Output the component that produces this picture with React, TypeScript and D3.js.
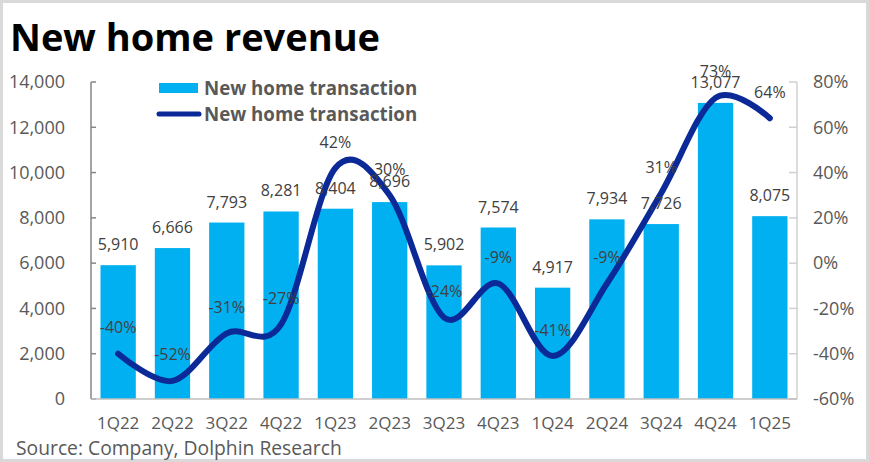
import { useEffect, useRef } from 'react'
import * as d3 from 'd3'

const quarters = ['1Q22', '2Q22', '3Q22', '4Q22', '1Q23', '2Q23', '3Q23', '4Q23', '1Q24', '2Q24', '3Q24', '4Q24', '1Q25']
const revenue = [5910, 6666, 7793, 8281, 8404, 8696, 5902, 7574, 4917, 7934, 7726, 13077, 8075]
const growth = [-40, -52, -31, -27, 42, 30, -24, -9, -41, -9, 31, 73, 64]
const leftTicks = [0, 2000, 4000, 6000, 8000, 10000, 12000, 14000]
const rightTicks = [-60, -40, -20, 0, 20, 40, 60, 80]

const W = 869
const H = 462
const FONT = '"Open Sans", "Noto Sans", sans-serif'
const BAR = '#00B0F0'
const LINE = '#0B2A98'
const TEXT = '#595959'

export default function App() {
  const ref = useRef<SVGSVGElement>(null)

  useEffect(() => {
    if (!ref.current) return
    const svg = d3.select(ref.current)
    svg.selectAll('*').remove()

    const left = 91, right = 797, top = 82, bottom = 399

    const x = d3.scaleBand().domain(quarters).range([left, right]).padding(0)
    const yL = d3.scaleLinear().domain([0, 14000]).range([bottom, top])
    const yR = d3.scaleLinear().domain([-60, 80]).range([bottom, top])
    const cx = (q: string) => (x(q) || 0) + x.bandwidth() / 2
    const bw = x.bandwidth() * 0.65

    svg.append('rect')
      .attr('x', 1.5).attr('y', 1.5).attr('width', W - 3).attr('height', H - 3)
      .attr('fill', '#fff').attr('stroke', '#d9d9d9').attr('stroke-width', 3)

    svg.append('text')
      .attr('x', 10).attr('y', 51)
      .attr('font-family', FONT).attr('font-weight', 700).attr('font-size', 38)
      .attr('fill', '#000')
      .text('New home revenue')

    // bars
    svg.append('g')
      .selectAll('rect')
      .data(quarters)
      .join('rect')
      .attr('x', d => cx(d) - bw / 2)
      .attr('y', (d, i) => yL(revenue[i]))
      .attr('width', bw)
      .attr('height', (d, i) => yL(0) - yL(revenue[i]))
      .attr('fill', BAR)

    // left axis
    const gl = svg.append('g')
    gl.append('line').attr('x1', left).attr('x2', left).attr('y1', top).attr('y2', bottom)
      .attr('stroke', '#868686').attr('stroke-width', 1.5)
    gl.selectAll('line.t').data(leftTicks).join('line').attr('class', 't')
      .attr('x1', left).attr('x2', left + 5).attr('y1', d => yL(d)).attr('y2', d => yL(d))
      .attr('stroke', '#868686').attr('stroke-width', 1.5)
    gl.selectAll('text').data(leftTicks).join('text')
      .attr('x', 65).attr('y', d => yL(d)).attr('dy', '0.35em')
      .attr('text-anchor', 'end')
      .attr('font-family', FONT).attr('font-size', 18).attr('fill', TEXT)
      .text(d => d3.format(',')(d))

    // right axis
    const gr = svg.append('g')
    gr.append('line').attr('x1', right).attr('x2', right).attr('y1', top).attr('y2', bottom)
      .attr('stroke', '#d0d0d0').attr('stroke-width', 1.5)
    gr.selectAll('line.t').data(rightTicks).join('line').attr('class', 't')
      .attr('x1', right - 8).attr('x2', right).attr('y1', d => yR(d)).attr('y2', d => yR(d))
      .attr('stroke', '#d0d0d0').attr('stroke-width', 1.5)
    gr.selectAll('text').data(rightTicks).join('text')
      .attr('x', 813).attr('y', d => yR(d)).attr('dy', '0.35em')
      .attr('font-family', FONT).attr('font-size', 18).attr('fill', TEXT)
      .text(d => `${d}%`)

    // bottom axis
    svg.append('line').attr('x1', left).attr('x2', right).attr('y1', bottom).attr('y2', bottom)
      .attr('stroke', '#bfbfbf').attr('stroke-width', 1.5)
    svg.append('g').selectAll('text').data(quarters).join('text')
      .attr('x', d => cx(d)).attr('y', 429)
      .attr('text-anchor', 'middle')
      .attr('font-family', FONT).attr('font-size', 17).attr('fill', TEXT)
      .text(d => d)

    // line
    const line = d3.line<number>()
      .x((d, i) => cx(quarters[i]))
      .y(d => yR(d))
      .curve(d3.curveCardinal.tension(0))
    svg.append('path')
      .datum(growth)
      .attr('d', line)
      .attr('fill', 'none')
      .attr('stroke', LINE)
      .attr('stroke-width', 6)
      .attr('stroke-linecap', 'round')
      .attr('stroke-linejoin', 'round')

    // bar labels
    svg.append('g').selectAll('text').data(quarters).join('text')
      .attr('x', d => cx(d)).attr('y', (d, i) => yL(revenue[i]) - 15)
      .attr('text-anchor', 'middle')
      .attr('font-family', FONT).attr('font-size', 16).attr('fill', '#404040')
      .text((d, i) => d3.format(',')(revenue[i]))

    // growth labels
    svg.append('g').selectAll('text').data(quarters).join('text')
      .attr('x', d => cx(d)).attr('y', (d, i) => yR(growth[i]) - 26).attr('dy', '0.35em')
      .attr('text-anchor', 'middle')
      .attr('font-family', FONT).attr('font-size', 16).attr('fill', '#404040')
      .text((d, i) => `${growth[i]}%`)

    // legend
    const lg = svg.append('g').attr('font-family', FONT).attr('font-weight', 700)
      .attr('font-size', 18.7).attr('fill', TEXT)
    lg.append('rect').attr('x', 159).attr('y', 83).attr('width', 39).attr('height', 10).attr('fill', BAR)
    lg.append('text').attr('x', 204).attr('y', 88).attr('dy', '0.35em').text('New home transaction')
    lg.append('line').attr('x1', 159).attr('x2', 199).attr('y1', 114).attr('y2', 114)
      .attr('stroke', LINE).attr('stroke-width', 5).attr('stroke-linecap', 'round')
    lg.append('text').attr('x', 204).attr('y', 114).attr('dy', '0.35em').text('New home transaction')

    svg.append('text')
      .attr('x', 16).attr('y', 455)
      .attr('font-family', FONT).attr('font-size', 19.3).attr('fill', TEXT)
      .text('Source: Company, Dolphin Research')
  }, [])

  return (
    <svg ref={ref} width={W} height={H}
      style={{ position: 'absolute', left: 0, top: 0, display: 'block' }} />
  )
}
